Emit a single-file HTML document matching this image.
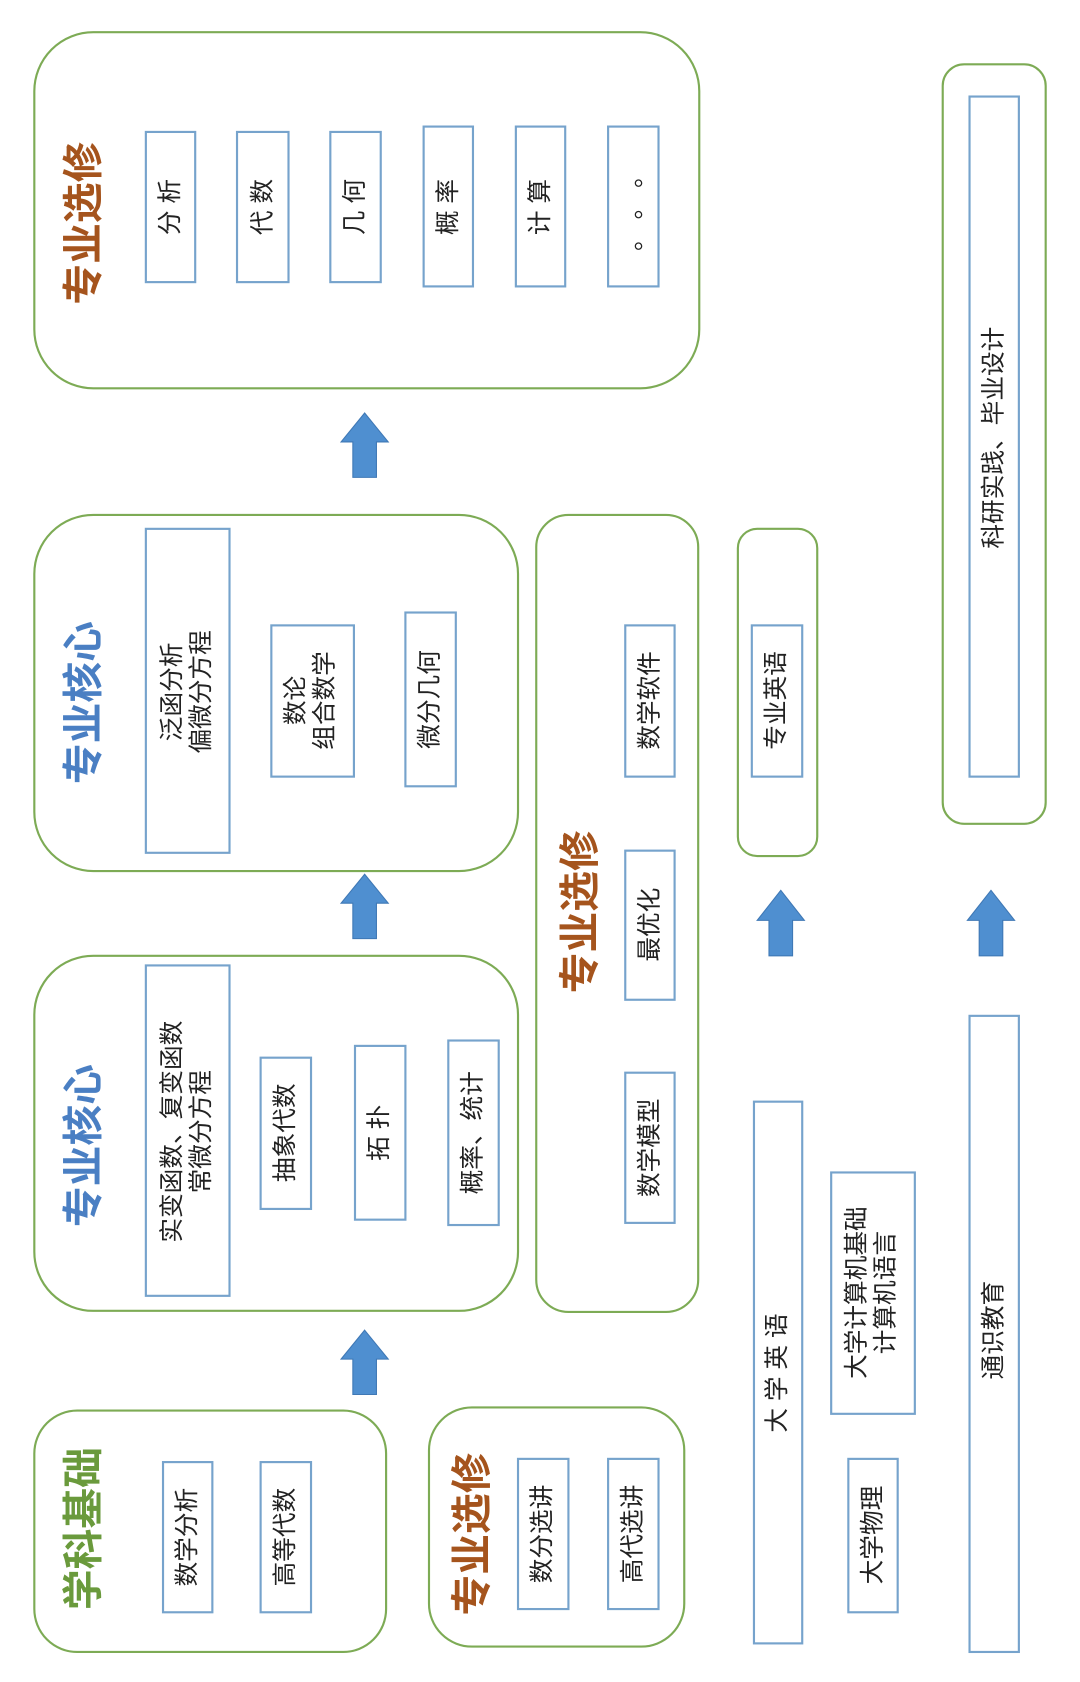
<!DOCTYPE html>
<html><head><meta charset="utf-8"><style>
html,body{margin:0;padding:0;background:#fff}
svg{display:block}
text{font-family:"Liberation Sans","Noto Sans CJK SC",sans-serif;}
.g{fill:#fff;stroke:#7dab55;stroke-width:2}
.b{fill:#fff;stroke:#76a3cc;stroke-width:2}
.t{font-size:23px;fill:#222}
.h{font-size:38px;font-weight:bold}
.a{fill:#4f8fd0;stroke:#3f78b5;stroke-width:1}
</style></head><body>
<svg width="1080" height="1682" viewBox="0 0 1007 1568" preserveAspectRatio="none" xmlns="http://www.w3.org/2000/svg">
<rect class="g" x="32" y="30" width="620" height="332" rx="55"/>
<text class="h" fill="#a5541d" text-anchor="middle" dominant-baseline="central" transform="translate(78,208) rotate(-90)">专业选修</text>
<rect class="b" x="136" y="123" width="46" height="140"/>
<text class="t" text-anchor="middle" dominant-baseline="central" transform="translate(159,193) rotate(-90)">分 析</text>
<rect class="b" x="221" y="123" width="48" height="140"/>
<text class="t" text-anchor="middle" dominant-baseline="central" transform="translate(245,193) rotate(-90)">代 数</text>
<rect class="b" x="308" y="123" width="47" height="140"/>
<text class="t" text-anchor="middle" dominant-baseline="central" transform="translate(331,193) rotate(-90)">几 何</text>
<rect class="b" x="395" y="118" width="46" height="149"/>
<text class="t" text-anchor="middle" dominant-baseline="central" transform="translate(418,193) rotate(-90)">概 率</text>
<rect class="b" x="481" y="118" width="46" height="149"/>
<text class="t" text-anchor="middle" dominant-baseline="central" transform="translate(504,193) rotate(-90)">计 算</text>
<rect class="b" x="567" y="118" width="47" height="149"/>
<text class="t" text-anchor="middle" dominant-baseline="central" transform="translate(590,193) rotate(-90)">。 。 。</text>

<rect class="g" x="879" y="60" width="96" height="708" rx="20"/>
<rect class="b" x="904" y="90" width="46" height="634"/>
<text class="t" text-anchor="middle" dominant-baseline="central" transform="translate(927,408) rotate(-90)">科研实践、毕业设计</text>

<polygon class="a" points="340,385 362,412 351,412 351,445 329,445 329,412 318,412"/>
<polygon class="a" points="340,815 362,842 351,842 351,875 329,875 329,842 318,842"/>
<polygon class="a" points="340,1240 362,1267 351,1267 351,1300 329,1300 329,1267 318,1267"/>
<polygon class="a" points="728,830 750,858 739,858 739,891 717,891 717,858 706,858"/>
<polygon class="a" points="924,830 946,858 935,858 935,891 913,891 913,858 902,858"/>

<rect class="g" x="32" y="480" width="451" height="332" rx="55"/>
<text class="h" fill="#4a7fc3" text-anchor="middle" dominant-baseline="central" transform="translate(78,655) rotate(-90)">专业核心</text>
<rect class="b" x="136" y="493" width="78" height="302"/>
<text class="t" text-anchor="middle" transform="translate(168,645) rotate(-90)"><tspan x="0" y="0">泛函分析</tspan><tspan x="0" y="27">偏微分方程</tspan></text>
<rect class="b" x="253" y="583" width="77" height="141"/>
<text class="t" text-anchor="middle" transform="translate(283,653) rotate(-90)"><tspan x="0" y="0">数论</tspan><tspan x="0" y="27">组合数学</tspan></text>
<rect class="b" x="378" y="571" width="47" height="162"/>
<text class="t" text-anchor="middle" dominant-baseline="central" transform="translate(401,652) rotate(-90)">微分几何</text>

<rect class="g" x="500" y="480" width="151" height="743" rx="30"/>
<text class="h" fill="#a5541d" text-anchor="middle" dominant-baseline="central" transform="translate(541,850) rotate(-90)">专业选修</text>
<rect class="b" x="583" y="583" width="46" height="141"/>
<text class="t" text-anchor="middle" dominant-baseline="central" transform="translate(606,653) rotate(-90)">数学软件</text>
<rect class="b" x="583" y="793" width="46" height="139"/>
<text class="t" text-anchor="middle" dominant-baseline="central" transform="translate(606,862) rotate(-90)">最优化</text>
<rect class="b" x="583" y="1000" width="46" height="140"/>
<text class="t" text-anchor="middle" dominant-baseline="central" transform="translate(606,1070) rotate(-90)">数学模型</text>

<rect class="g" x="688" y="493" width="74" height="305" rx="18"/>
<rect class="b" x="701" y="583" width="47" height="141"/>
<text class="t" text-anchor="middle" dominant-baseline="central" transform="translate(724,653) rotate(-90)">专业英语</text>

<rect class="g" x="32" y="891" width="451" height="331" rx="55"/>
<text class="h" fill="#4a7fc3" text-anchor="middle" dominant-baseline="central" transform="translate(78,1068) rotate(-90)">专业核心</text>
<rect class="b" x="136" y="900" width="78" height="308"/>
<text class="t" text-anchor="middle" transform="translate(168,1055) rotate(-90)"><tspan x="0" y="0">实变函数、复变函数</tspan><tspan x="0" y="27">常微分方程</tspan></text>
<rect class="b" x="243" y="986" width="47" height="141"/>
<text class="t" text-anchor="middle" dominant-baseline="central" transform="translate(266,1056) rotate(-90)">抽象代数</text>
<rect class="b" x="331" y="975" width="47" height="162"/>
<text class="t" text-anchor="middle" dominant-baseline="central" transform="translate(354,1056) rotate(-90)">拓 扑</text>
<rect class="b" x="418" y="970" width="47" height="172"/>
<text class="t" text-anchor="middle" dominant-baseline="central" transform="translate(441,1056) rotate(-90)">概率、统计</text>

<rect class="g" x="32" y="1315" width="328" height="225" rx="40"/>
<text class="h" fill="#6a9a3c" text-anchor="middle" dominant-baseline="central" transform="translate(78,1425) rotate(-90)">学科基础</text>
<rect class="b" x="152" y="1363" width="46" height="140"/>
<text class="t" text-anchor="middle" dominant-baseline="central" transform="translate(175,1433) rotate(-90)">数学分析</text>
<rect class="b" x="243" y="1363" width="47" height="140"/>
<text class="t" text-anchor="middle" dominant-baseline="central" transform="translate(266,1433) rotate(-90)">高等代数</text>

<rect class="g" x="400" y="1312" width="238" height="223" rx="40"/>
<text class="h" fill="#a5541d" text-anchor="middle" dominant-baseline="central" transform="translate(440,1430) rotate(-90)">专业选修</text>
<rect class="b" x="483" y="1360" width="47" height="140"/>
<text class="t" text-anchor="middle" dominant-baseline="central" transform="translate(506,1430) rotate(-90)">数分选讲</text>
<rect class="b" x="567" y="1360" width="47" height="140"/>
<text class="t" text-anchor="middle" dominant-baseline="central" transform="translate(590,1430) rotate(-90)">高代选讲</text>

<rect class="b" x="703" y="1027" width="45" height="505"/>
<text class="t" text-anchor="middle" dominant-baseline="central" transform="translate(725,1280) rotate(-90)">大 学 英 语</text>
<rect class="b" x="775" y="1093" width="78" height="225"/>
<text class="t" text-anchor="middle" transform="translate(806,1205) rotate(-90)"><tspan x="0" y="0">大学计算机基础</tspan><tspan x="0" y="27">计算机语言</tspan></text>
<rect class="b" x="791" y="1360" width="46" height="143"/>
<text class="t" text-anchor="middle" dominant-baseline="central" transform="translate(814,1431) rotate(-90)">大学物理</text>
<rect class="b" x="904" y="947" width="46" height="593"/>
<text class="t" text-anchor="middle" dominant-baseline="central" transform="translate(927,1240) rotate(-90)">通识教育</text>
</svg>
</body></html>
